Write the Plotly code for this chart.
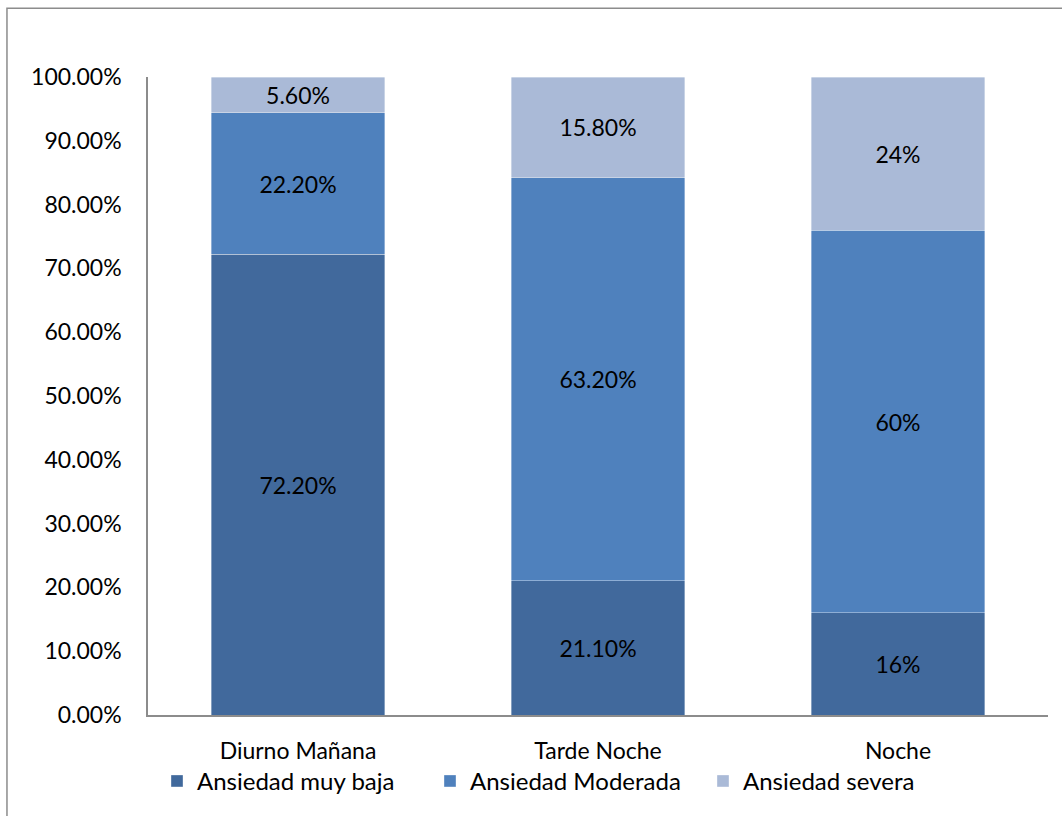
import plotly.graph_objects as go

# Turnos y niveles de ansiedad (porcentajes)
turnos = ["Diurno Mañana", "Tarde Noche", "Noche"]
muy_baja = [72.2, 21.1, 16]
moderada = [22.2, 63.2, 60]
severa = [5.6, 15.8, 24]
decimales = [2, 2, 0]
y_ticks = [0, 10, 20, 30, 40, 50, 60, 70, 80, 90, 100]

series = [
    ("Ansiedad muy baja", muy_baja, "#41699C"),
    ("Ansiedad Moderada", moderada, "#4F81BD"),
    ("Ansiedad severa", severa, "#AABAD7"),
]

FONT = "Lato, 'Open Sans', sans-serif"
FS = 23

fig = go.Figure()
for name, vals, color in series:
    labels = [f"{v:.{d}f}%" for v, d in zip(vals, decimales)]
    fig.add_trace(go.Bar(
        x=turnos, y=vals, name=name,
        marker=dict(color=color, line=dict(color="rgba(255,255,255,0.6)", width=0.6)),
        text=labels, textposition="inside", insidetextanchor="middle",
        textangle=0, constraintext="none",
        textfont=dict(color="black", size=FS, family=FONT),
        hoverinfo="skip",
    ))

fig.update_layout(
    barmode="stack",
    barnorm="percent",
    bargap=0.423,
    width=1062, height=816,
    margin=dict(l=148, r=14, t=77, b=98),
    paper_bgcolor="white", plot_bgcolor="white",
    font=dict(family=FONT, size=FS, color="black"),
    showlegend=True,
    legend=dict(
        orientation="h", x=0.465, xanchor="center", y=-0.104, yanchor="middle",
        font=dict(size=FS + 1, family=FONT), traceorder="normal",
        bgcolor="rgba(0,0,0,0)", entrywidth=228, entrywidthmode="pixels",
        itemwidth=30, tracegroupgap=0,
    ),
    uniformtext=dict(mode=False),
)

fig.update_yaxes(
    range=[0, 100], tickvals=y_ticks,
    ticktext=[f"{v:.2f}%" for v in y_ticks],
    showgrid=False, zeroline=False,
    showline=True, linecolor="#8C8C8C", linewidth=1.5,
    ticks="", ticklabelstandoff=20,
    tickfont=dict(size=FS, family=FONT),
)
fig.update_xaxes(
    showgrid=False, showline=True, linecolor="#8C8C8C", linewidth=1.5,
    ticks="", ticklabelstandoff=15,
    tickfont=dict(size=FS, family=FONT),
)

# Chart frame
fig.add_shape(
    type="rect", xref="paper", yref="paper",
    x0=-0.1567, x1=1.03, y0=-0.2, y1=1.1076,
    line=dict(color="#8C8C8C", width=1.5), fillcolor="rgba(0,0,0,0)", layer="below",
)

fig.write_html("out.html")
